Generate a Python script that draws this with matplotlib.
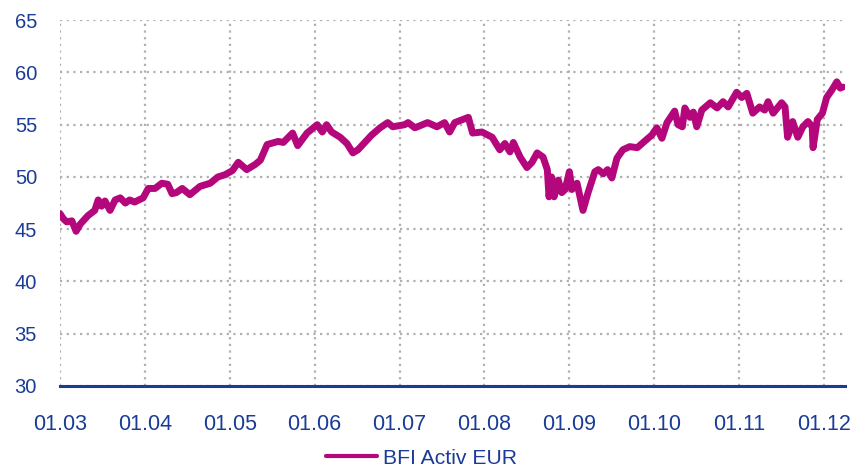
import matplotlib.pyplot as plt

# Kursverlauf BFI Activ EUR (Jahr als Dezimalzahl, Kurs)
years = [
    2003.00, 2003.04, 2003.08, 2003.14, 2003.19, 2003.24, 2003.33, 2003.41, 2003.45, 2003.49,
    2003.53, 2003.59, 2003.65, 2003.71, 2003.77, 2003.82, 2003.88, 2003.98, 2004.04, 2004.12,
    2004.20, 2004.27, 2004.32, 2004.37, 2004.44, 2004.53, 2004.65, 2004.77, 2004.86, 2004.94,
    2005.03, 2005.10, 2005.20, 2005.30, 2005.36, 2005.44, 2005.57, 2005.63, 2005.74, 2005.80,
    2005.91, 2006.03, 2006.09, 2006.14, 2006.20, 2006.30, 2006.38, 2006.45, 2006.51, 2006.59,
    2006.67, 2006.77, 2006.86, 2006.92, 2007.06, 2007.10, 2007.18, 2007.33, 2007.44, 2007.53,
    2007.59, 2007.65, 2007.81, 2007.86, 2007.97, 2008.09, 2008.18, 2008.24, 2008.30, 2008.34,
    2008.42, 2008.50, 2008.56, 2008.62, 2008.69, 2008.74, 2008.76, 2008.79, 2008.82, 2008.87,
    2008.91, 2008.95, 2009.00, 2009.03, 2009.09, 2009.16, 2009.22, 2009.30, 2009.34, 2009.40,
    2009.45, 2009.50, 2009.56, 2009.63, 2009.71, 2009.80, 2009.87, 2009.97, 2010.03, 2010.09,
    2010.15, 2010.24, 2010.28, 2010.33, 2010.36, 2010.42, 2010.46, 2010.50, 2010.56, 2010.66,
    2010.74, 2010.81, 2010.87, 2010.97, 2011.03, 2011.09, 2011.16, 2011.24, 2011.30, 2011.34,
    2011.40, 2011.50, 2011.54, 2011.57, 2011.63, 2011.69, 2011.75, 2011.81, 2011.86, 2011.87,
    2011.92, 2011.98, 2012.03, 2012.09, 2012.15, 2012.19, 2012.22,
]
prices = [
    46.5, 46.0, 45.7, 45.8, 44.8, 45.5, 46.3, 46.8, 47.8, 47.2,
    47.7, 46.8, 47.8, 48.0, 47.5, 47.8, 47.6, 48.0, 48.9, 48.9,
    49.4, 49.3, 48.4, 48.5, 48.9, 48.3, 49.1, 49.4, 50.0, 50.2,
    50.6, 51.4, 50.7, 51.2, 51.6, 53.1, 53.4, 53.3, 54.2, 53.0,
    54.2, 55.0, 54.3, 55.0, 54.3, 53.8, 53.2, 52.3, 52.6, 53.3,
    54.0, 54.7, 55.2, 54.8, 55.0, 55.2, 54.7, 55.2, 54.8, 55.2,
    54.3, 55.2, 55.7, 54.2, 54.3, 53.8, 52.6, 53.2, 52.4, 53.3,
    51.9, 50.9, 51.4, 52.3, 51.9, 50.7, 48.1, 50.0, 48.1, 49.7,
    48.5, 48.8, 50.5, 48.8, 49.4, 46.8, 48.5, 50.5, 50.7, 50.3,
    50.7, 49.9, 51.8, 52.6, 52.9, 52.8, 53.3, 54.0, 54.7, 53.7,
    55.2, 56.3, 55.0, 54.8, 56.6, 55.7, 56.2, 54.8, 56.4, 57.1,
    56.6, 57.2, 56.7, 58.1, 57.6, 58.0, 56.1, 56.7, 56.4, 57.2,
    56.1, 57.1, 56.7, 53.8, 55.3, 53.8, 54.8, 55.3, 54.8, 52.8,
    55.5, 56.1, 57.6, 58.3, 59.1, 58.5, 58.6,
]

tick_years = list(range(2003, 2013))
tick_labels = ["01.03", "01.04", "01.05", "01.06", "01.07",
               "01.08", "01.09", "01.10", "01.11", "01.12"]
y_ticks = [30, 35, 40, 45, 50, 55, 60, 65]

NAVY = "#1a3c96"
MAGENTA = "#b5077c"

plt.rcParams["font.family"] = ["Liberation Sans", "DejaVu Sans"]

fig = plt.figure(figsize=(8.53, 4.69), dpi=100)
ax = fig.add_axes([0.0703, 0.177, 0.9203, 0.780])

ax.plot(years, prices, color=MAGENTA, linewidth=5, solid_joinstyle="round",
        solid_capstyle="round", label="BFI Activ EUR", zorder=3)

ax.set_xlim(2003.0, 2012.246)
ax.set_ylim(30, 65)
ax.set_xticks(tick_years)
ax.set_xticklabels(tick_labels)
ax.set_yticks(y_ticks)

ax.grid(True, color="#b0b0b0", linestyle=(0, (1, 2)), linewidth=1.6)
ax.set_axisbelow(True)

for side in ["top", "right", "left"]:
    ax.spines[side].set_visible(False)
ax.spines["bottom"].set_color(NAVY)
ax.spines["bottom"].set_linewidth(2.2)
ax.spines["bottom"].set_zorder(4)

ax.tick_params(axis="both", length=0, colors=NAVY)
ax.tick_params(axis="y", labelsize=14.5, pad=16.5)
ax.tick_params(axis="x", labelsize=15.5, pad=20.5)

leg = ax.legend(loc="center", bbox_to_anchor=(0.4605, -0.197), frameon=False,
                fontsize=15.2, handlelength=2.46, handletextpad=0.28,
                borderpad=0, borderaxespad=0)
for t in leg.get_texts():
    t.set_color(NAVY)
for line in leg.get_lines():
    line.set_linewidth(3)

fig.savefig("out.png", dpi=100)
